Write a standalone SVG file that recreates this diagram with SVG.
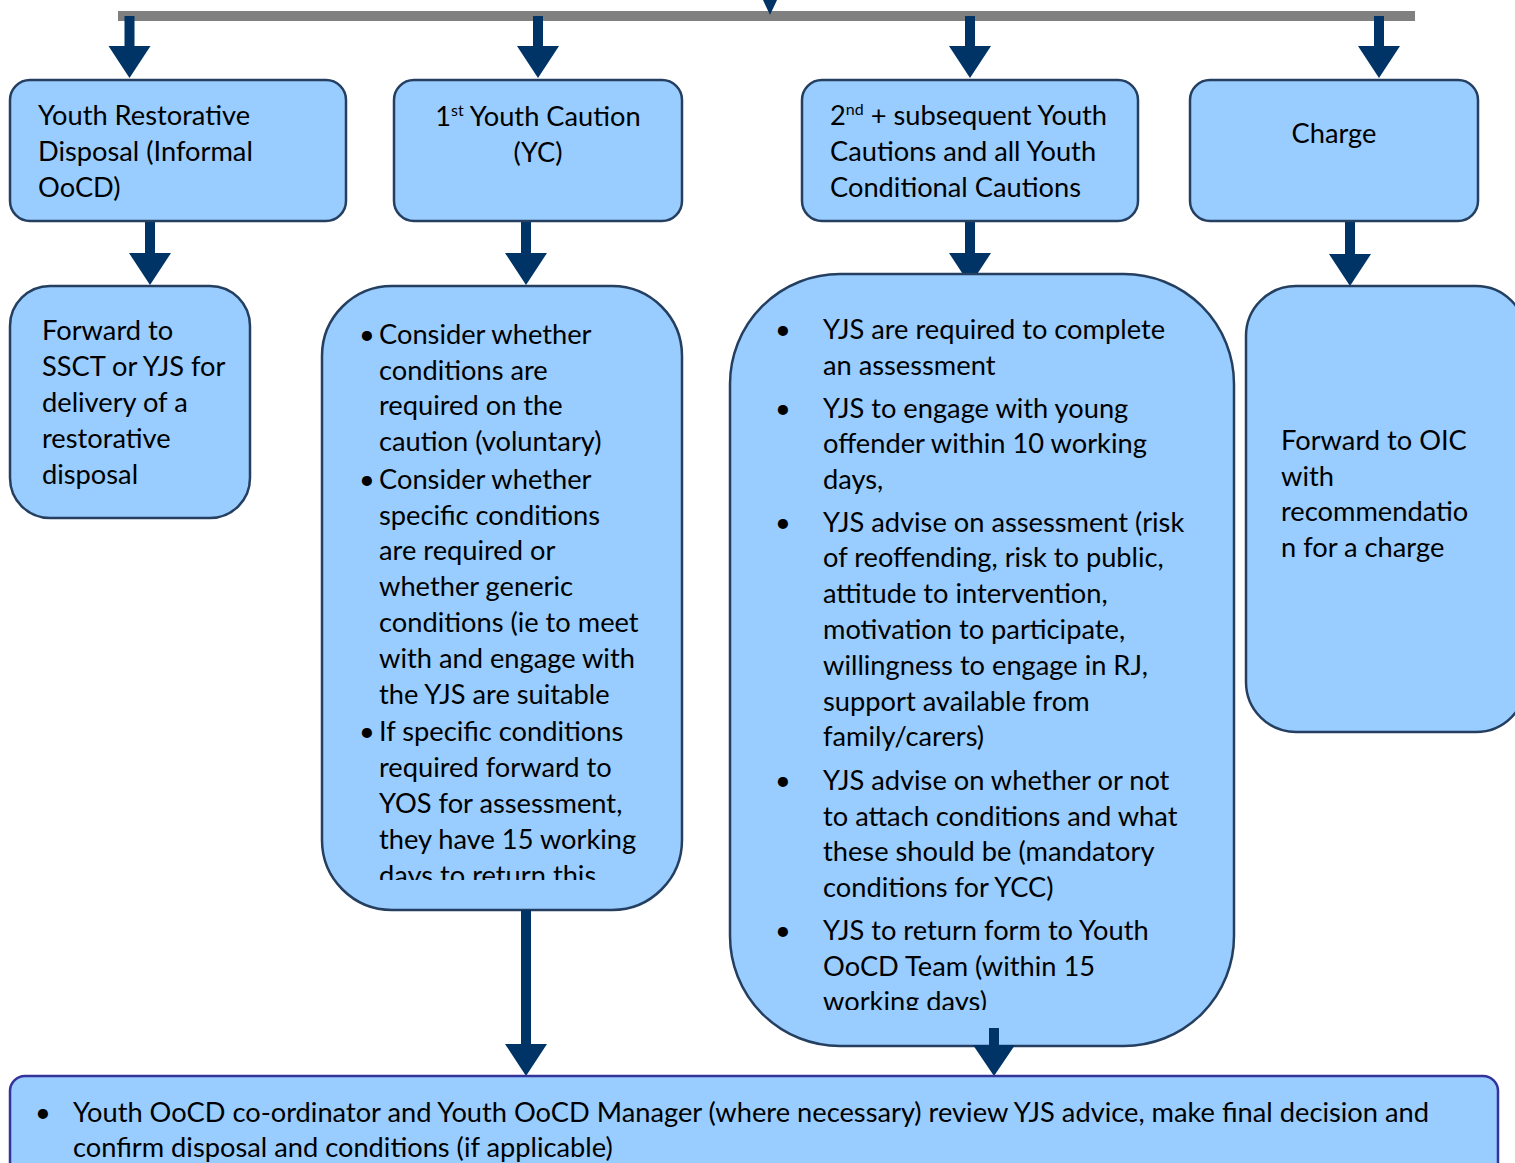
<svg xmlns="http://www.w3.org/2000/svg" width="1515" height="1163" viewBox="0 0 1515 1163">
<style>
.box{fill:#99CCFF;stroke:#243F60;stroke-width:2.5}
.boxb{fill:#99CCFF;stroke:#33339A;stroke-width:2.5}
.arr{fill:#003366}
.t{font-family:Lato,"Liberation Sans",sans-serif;font-size:27.25px;fill:#000}
.c{text-anchor:middle}
</style>
<defs>
<clipPath id="c6"><rect x="322" y="286" width="360" height="594"/></clipPath>
<clipPath id="c7"><rect x="730" y="274" width="504" height="736"/></clipPath>
</defs>
<rect x="118" y="11" width="1297" height="10" fill="#808080"/>
<g id="connectors">
<path class="arr" d="M763,0 L777,0 L770,15 Z"/>
<path class="arr" d="M124.5,16 h10 v30 h16 L129.5,78 L108.5,46 h16 Z"/>
<path class="arr" d="M533,16 h10 v30 h16 L538,78 L517,46 h16 Z"/>
<path class="arr" d="M965,16 h10 v30 h16 L970,78 L949,46 h16 Z"/>
<path class="arr" d="M1374,16 h10 v30 h16 L1379,78 L1358,46 h16 Z"/>
<path class="arr" d="M145,221 h10 v32 h16 L150,285 L129,253 h16 Z"/>
<path class="arr" d="M521,221 h10 v32 h16 L526,285 L505,253 h16 Z"/>
<path class="arr" d="M965,221 h10 v32 h16 L970,285 L949,253 h16 Z"/>
<path class="arr" d="M1345,221 h10 v33 h16 L1350,286 L1329,254 h16 Z"/>
</g>
<g id="n1"><rect class="box" x="10" y="80" width="336" height="141" rx="20"/>
<text class="t"><tspan x="38" y="125">Youth Restorative</tspan><tspan x="38" y="161">Disposal (Informal</tspan><tspan x="38" y="197">OoCD)</tspan></text></g>
<g id="n2"><rect class="box" x="394" y="80" width="288" height="141" rx="20"/>
<text class="t c"><tspan x="538" y="126">1<tspan font-size="16" dy="-10">st</tspan><tspan dy="10"> Youth Caution</tspan></tspan><tspan x="538" y="162">(YC)</tspan></text></g>
<g id="n3"><rect class="box" x="802" y="80" width="336" height="141" rx="20"/>
<text class="t"><tspan x="830" y="125">2<tspan font-size="16" dy="-10">nd</tspan><tspan dy="10"> + subsequent Youth</tspan></tspan><tspan x="830" y="161">Cautions and all Youth</tspan><tspan x="830" y="197">Conditional Cautions</tspan></text></g>
<g id="n4"><rect class="box" x="1190" y="80" width="288" height="141" rx="20"/>
<text class="t c" x="1334" y="143">Charge</text></g>
<g id="n5"><rect class="box" x="10" y="286" width="240" height="232" rx="40"/>
<text class="t"><tspan x="42" y="340">Forward to</tspan><tspan x="42" y="376">SSCT or YJS for</tspan><tspan x="42" y="412">delivery of a</tspan><tspan x="42" y="448">restorative</tspan><tspan x="42" y="484">disposal</tspan></text></g>
<g id="n6"><rect class="box" x="322" y="286" width="360" height="624" rx="70"/>
<g clip-path="url(#c6)">
<text class="t"><tspan x="359" y="344">•</tspan><tspan x="359" y="489">•</tspan><tspan x="359" y="741">•</tspan></text>
<text class="t"><tspan x="379" y="344">Consider whether</tspan><tspan x="379" y="380">conditions are</tspan><tspan x="379" y="415">required on the</tspan><tspan x="379" y="451">caution (voluntary)</tspan><tspan x="379" y="489">Consider whether</tspan><tspan x="379" y="525">specific conditions</tspan><tspan x="379" y="560">are required or</tspan><tspan x="379" y="596">whether generic</tspan><tspan x="379" y="632">conditions (ie to meet</tspan><tspan x="379" y="668">with and engage with</tspan><tspan x="379" y="704">the YJS are suitable</tspan><tspan x="379" y="741">If specific conditions</tspan><tspan x="379" y="777">required forward to</tspan><tspan x="379" y="813">YOS for assessment,</tspan><tspan x="379" y="849">they have 15 working</tspan><tspan x="379" y="885">days to return this</tspan></text>
</g></g>
<g id="n7"><rect class="box" x="730" y="274" width="504" height="772" rx="110"/>
<g clip-path="url(#c7)">
<text class="t"><tspan x="775" y="339">•</tspan><tspan x="775" y="418">•</tspan><tspan x="775" y="532">•</tspan><tspan x="775" y="790">•</tspan><tspan x="775" y="940">•</tspan></text>
<text class="t"><tspan x="823" y="339">YJS are required to complete</tspan><tspan x="823" y="375">an assessment</tspan><tspan x="823" y="418">YJS to engage with young</tspan><tspan x="823" y="453">offender within 10 working</tspan><tspan x="823" y="489">days,</tspan><tspan x="823" y="532">YJS advise on assessment (risk</tspan><tspan x="823" y="567">of reoffending, risk to public,</tspan><tspan x="823" y="603">attitude to intervention,</tspan><tspan x="823" y="639">motivation to participate,</tspan><tspan x="823" y="675">willingness to engage in RJ,</tspan><tspan x="823" y="711">support available from</tspan><tspan x="823" y="746">family/carers)</tspan><tspan x="823" y="790">YJS advise on whether or not</tspan><tspan x="823" y="826">to attach conditions and what</tspan><tspan x="823" y="861">these should be (mandatory</tspan><tspan x="823" y="897">conditions for YCC)</tspan><tspan x="823" y="940">YJS to return form to Youth</tspan><tspan x="823" y="976">OoCD Team (within 15</tspan><tspan x="823" y="1011">working days)</tspan></text>
</g></g>
<g id="n8"><rect class="box" x="1246" y="286" width="280" height="446" rx="50"/>
<text class="t"><tspan x="1281" y="450">Forward to OIC</tspan><tspan x="1281" y="486">with</tspan><tspan x="1281" y="521">recommendatio</tspan><tspan x="1281" y="557">n for a charge</tspan></text></g>
<g id="connectors2">
<path class="arr" d="M521,910 h10 v134 h16 L526,1076 L505,1044 h16 Z"/>
<path class="arr" d="M989,1028 h10 v17 h16 L994,1076 L973,1045 h16 Z"/>
</g>
<g id="n9"><rect class="boxb" x="10" y="1076" width="1488" height="120" rx="15"/>
<text class="t"><tspan x="35" y="1122">•</tspan><tspan x="73" y="1122">Youth OoCD co-ordinator and Youth OoCD Manager (where necessary) review YJS advice, make final decision and</tspan><tspan x="73" y="1157">confirm disposal and conditions (if applicable)</tspan></text></g>
</svg>
